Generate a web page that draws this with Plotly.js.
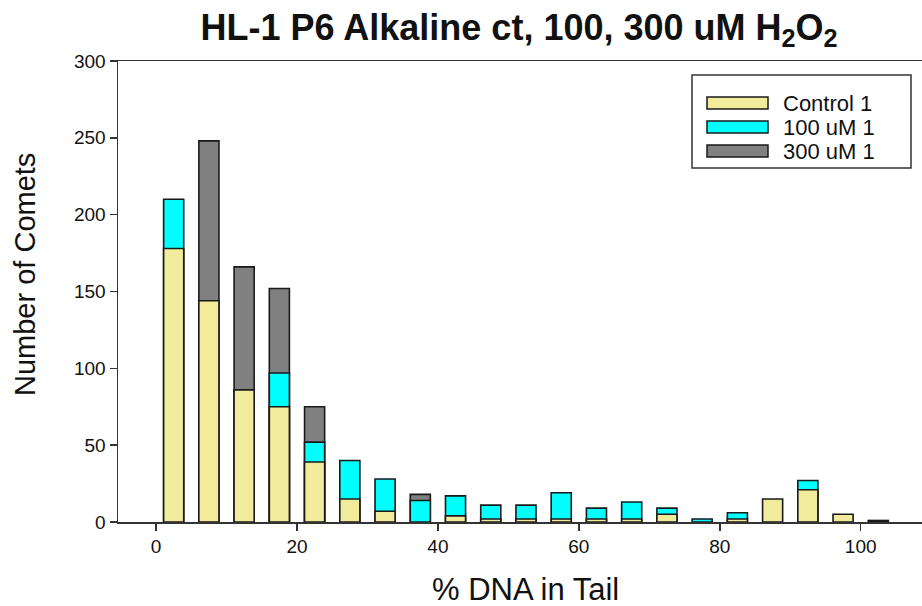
<!DOCTYPE html>
<html>
<head>
<meta charset="utf-8">
<script src="https://cdn.plot.ly/plotly-3.0.1.min.js"></script>
<style>html,body{margin:0;padding:0;background:#fff;}#chart{width:922px;height:606px;}</style>
</head>
<body>
<div id="chart"></div>
<script>
// Bin centers (% DNA in Tail, bin width 5)
const binCenters = [2.5, 7.5, 12.5, 17.5, 22.5, 27.5, 32.5, 37.5, 42.5, 47.5, 52.5, 57.5, 62.5, 67.5, 72.5, 77.5, 82.5, 87.5, 92.5, 97.5, 102.5];
// Number of comets per bin (overlaid bars; null = not visible)
const control1 = [178, 144, 86, 75, 39, 15, 7, null, 4, 2, 2, 2, 2, 2, 5, null, 2, 15, 21, 5, null];
const um100_1  = [210, null, null, 97, 52, 40, 28, 14, 17, 11, 11, 19, 9, 13, 9, 2, 6, null, 27, null, null];
const um300_1  = [null, 248, 166, 152, 75, null, null, 18, null, null, null, null, null, null, null, null, null, null, null, null, 1];
const seriesNames = ["Control 1", "100 uM 1", "300 uM 1"];
const seriesColors = ["#F0EC9C", "#00FFFF", "#808080"];
const xTicks = [0, 20, 40, 60, 80, 100];
const yTicks = [0, 50, 100, 150, 200, 250, 300];
const titleText = "<b>HL-1 P6 Alkaline ct, 100, 300 uM H<sub>2</sub>O<sub>2</sub></b>";
const xTitle = "% DNA in Tail";
const yTitle = "Number of Comets";

const FONT = "Liberation Sans, Arial, sans-serif";
const barLine = {color: "#1a1a1a", width: 1.6};
const barW = 2.85;

const traces = [
  {type: "bar", x: binCenters, y: um300_1, name: seriesNames[2], width: barW,
   marker: {color: seriesColors[2], line: barLine}, showlegend: false},
  {type: "bar", x: binCenters, y: um100_1, name: seriesNames[1], width: barW,
   marker: {color: seriesColors[1], line: barLine}, showlegend: false},
  {type: "bar", x: binCenters, y: control1, name: seriesNames[0], width: barW,
   marker: {color: seriesColors[0], line: barLine}, showlegend: false}
];

// plot area in pixels
const L = 118, R = 922, T = 61, B = 522;
const px = v => (v - L) / (R - L);
const py = v => (B - v) / (B - T);

const shapes = [];
const annotations = [];
// custom legend box
shapes.push({type: "rect", xref: "paper", yref: "paper", x0: px(692), x1: px(911), y0: py(168), y1: py(75),
  line: {color: "#333", width: 1.5}, fillcolor: "#fff", layer: "above"});
const legendY = [103, 127, 151];
seriesNames.forEach((nm, i) => {
  shapes.push({type: "rect", xref: "paper", yref: "paper", x0: px(707), x1: px(768),
    y0: py(legendY[i] + 6), y1: py(legendY[i] - 6),
    line: {color: "#1a1a1a", width: 1.5}, fillcolor: seriesColors[i], layer: "above"});
  annotations.push({xref: "paper", yref: "paper", x: px(782), y: py(legendY[i]), xanchor: "left", yanchor: "middle",
    text: nm, showarrow: false, borderpad: 0, font: {family: FONT, size: 22, color: "#111"}});
});
// axis titles
annotations.push({xref: "paper", yref: "paper", x: px(525), y: py(589), xanchor: "center", yanchor: "middle",
  text: xTitle, showarrow: false, font: {family: FONT, size: 31, color: "#111"}});
annotations.push({xref: "paper", yref: "paper", x: px(25), y: py(275), xanchor: "center", yanchor: "middle",
  text: yTitle, textangle: -90, showarrow: false, font: {family: FONT, size: 29, color: "#111"}});

const layout = {
  width: 922, height: 606,
  margin: {l: L, r: 922 - R, t: T, b: 606 - B},
  paper_bgcolor: "#fff", plot_bgcolor: "#fff",
  barmode: "overlay",
  title: {text: titleText,
    font: {family: FONT, size: 36, color: "#111"}, x: 0.563, xanchor: "center", y: 1 - 27 / 606, yanchor: "middle", xref: "container", yref: "container"},
  xaxis: {range: [-5.4, 108.7], tickvals: xTicks, ticks: "outside", ticklen: 7, tickwidth: 1.5, tickcolor: "#333",
    showline: true, linecolor: "#333", linewidth: 1.5, mirror: true, showgrid: false, zeroline: false,
    tickfont: {family: FONT, size: 19, color: "#111"}},
  yaxis: {range: [0, 300], tickvals: yTicks, ticks: "outside", ticklen: 7, tickwidth: 1.5, tickcolor: "#333",
    showline: true, linecolor: "#333", linewidth: 1.5, showgrid: false, zeroline: false,
    tickfont: {family: FONT, size: 19, color: "#111"}},
  shapes: shapes,
  annotations: annotations,
  showlegend: false
};

Plotly.newPlot("chart", traces, layout, {displayModeBar: false, staticPlot: true});
</script>
</body>
</html>
